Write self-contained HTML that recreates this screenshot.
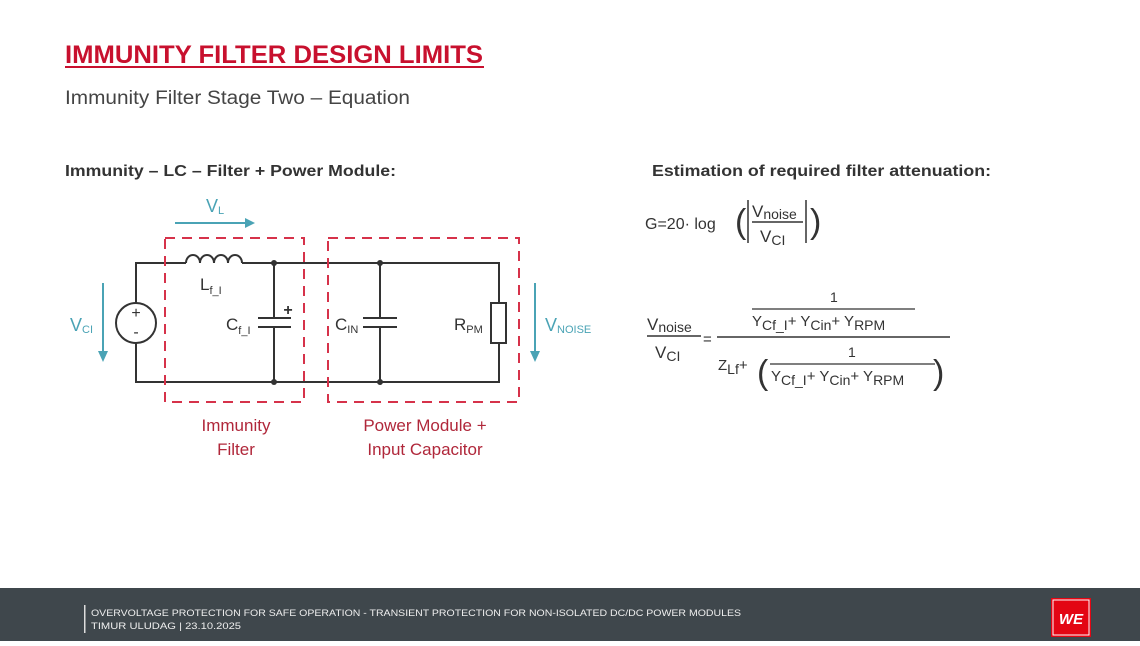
<!DOCTYPE html>
<html><head><meta charset="utf-8"><style>
html,body{margin:0;padding:0;background:#fff;}
body{width:1140px;height:641px;position:relative;overflow:hidden;font-family:"Liberation Sans",sans-serif;}
svg text{font-family:"Liberation Sans",sans-serif;}
</style></head><body>
<svg width="1140" height="641" viewBox="0 0 1140 641" xmlns="http://www.w3.org/2000/svg">
<rect width="1140" height="641" fill="#fff"/>
<text x="65" y="63" font-size="25" font-weight="bold" fill="#c8102e" textLength="418" lengthAdjust="spacingAndGlyphs">IMMUNITY FILTER DESIGN LIMITS</text>
<rect x="65" y="66" width="419" height="2" fill="#c8102e"/>
<text x="65" y="104" font-size="19" fill="#444" textLength="345" lengthAdjust="spacingAndGlyphs">Immunity Filter Stage Two – Equation</text>
<text x="65" y="176" font-size="16" font-weight="bold" fill="#333" textLength="331" lengthAdjust="spacingAndGlyphs">Immunity – LC – Filter + Power Module:</text>
<text x="652" y="176" font-size="16" font-weight="bold" fill="#333" textLength="339" lengthAdjust="spacingAndGlyphs">Estimation of required filter attenuation:</text>

<!-- circuit -->
<g stroke="#333" stroke-width="2" fill="none">
<path d="M136 303 V263 H186 M242 263 H499 V303 M499 343 V382 H136 V343"/>
<path d="M186 263 a7 8 0 0 1 14 0 a7 8 0 0 1 14 0 a7 8 0 0 1 14 0 a7 8 0 0 1 14 0"/>
<circle cx="136" cy="323" r="20"/>
<path d="M274 263 V318 M274 327 V382 M258 318 H291 M258 327 H291"/>
<path d="M380 263 V318 M380 327 V382 M363 318 H397 M363 327 H397"/>
<rect x="491" y="303" width="15" height="40"/>
</g>
<g fill="#333"><circle cx="274" cy="263" r="3"/><circle cx="274" cy="382" r="3"/><circle cx="380" cy="263" r="3"/><circle cx="380" cy="382" r="3"/></g>
<text x="136" y="318" font-size="16" text-anchor="middle" fill="#333">+</text>
<text x="136" y="337" font-size="16" text-anchor="middle" fill="#333">-</text>
<text x="288" y="315" font-size="16" font-weight="bold" text-anchor="middle" fill="#333">+</text>
<g fill="none" stroke="#d6324a" stroke-width="2" stroke-dasharray="10,7">
<rect x="165" y="238" width="139" height="164"/>
<rect x="328" y="238" width="191" height="164"/>
</g>
<text x="200" y="290" font-size="17" fill="#333">L<tspan font-size="11" dy="4">f_I</tspan></text>
<text x="226" y="330" font-size="17" fill="#333">C<tspan font-size="11" dy="4">f_I</tspan></text>
<text x="335" y="330" font-size="17" fill="#333">C<tspan font-size="11" dy="3">IN</tspan></text>
<text x="454" y="330" font-size="17" fill="#333">R<tspan font-size="11" dy="3">PM</tspan></text>
<!-- teal arrows -->
<g stroke="#4aa3b5" stroke-width="2" fill="#4aa3b5">
<path d="M175 223 H246" /><path d="M255 223 L245 218 L245 228 Z" stroke="none"/>
<path d="M103 283 V352"/><path d="M103 362 L98 351 L108 351 Z" stroke="none"/>
<path d="M535 283 V352"/><path d="M535 362 L530 351 L540 351 Z" stroke="none"/>
</g>
<text x="206" y="212" font-size="18" fill="#4aa3b5">V<tspan font-size="11" dy="2">L</tspan></text>
<text x="70" y="331" font-size="18" fill="#4aa3b5">V<tspan font-size="11" dy="2">CI</tspan></text>
<text x="545" y="331" font-size="18" fill="#4aa3b5">V<tspan font-size="11" dy="2">NOISE</tspan></text>
<g font-size="17" fill="#b0273a" text-anchor="middle">
<text x="236" y="431">Immunity</text><text x="236" y="455">Filter</text>
<text x="425" y="431">Power Module +</text><text x="425" y="455">Input Capacitor</text>
</g>

<!-- equations -->
<g fill="#333" font-size="16">
<text x="645" y="229">G=20· log</text>
<text x="735" y="233" font-size="34" font-weight="100">(</text>
<text x="810" y="233" font-size="34" font-weight="100">)</text>
<path d="M748 200 V243 M806 200 V243" stroke="#333" stroke-width="1.5"/>
<text x="752" y="217" font-size="17">V<tspan font-size="14" dy="2">noise</tspan></text>
<path d="M752 222 H803" stroke="#333" stroke-width="1.5"/>
<text x="760" y="242" font-size="17">V<tspan font-size="14" dy="3">CI</tspan></text>

<text x="647" y="330" font-size="17">V<tspan font-size="14" dy="2">noise</tspan></text>
<path d="M647 336 H701" stroke="#333" stroke-width="1.5"/>
<text x="655" y="358" font-size="17">V<tspan font-size="14" dy="3">CI</tspan></text>
<text x="703" y="344" font-size="15">=</text>
<path d="M717 337 H950" stroke="#333" stroke-width="1.5"/>
<text x="830" y="302" font-size="14">1</text>
<path d="M752 309 H915" stroke="#333" stroke-width="1.2"/>
<text x="752" y="326" font-size="15">Y<tspan font-size="14" dy="4">Cf_I</tspan><tspan dy="-4">+ Y</tspan><tspan font-size="14" dy="4">Cin</tspan><tspan dy="-4">+ Y</tspan><tspan font-size="14" dy="4">RPM</tspan></text>
<text x="718" y="370" font-size="15">Z<tspan font-size="14" dy="4">Lf</tspan><tspan dy="-4">+</tspan></text>
<text x="757" y="384" font-size="34" font-weight="100">(</text>
<text x="933" y="384" font-size="34" font-weight="100">)</text>
<text x="848" y="357" font-size="14">1</text>
<path d="M770 364 H935" stroke="#333" stroke-width="1.2"/>
<text x="771" y="381" font-size="15">Y<tspan font-size="14" dy="4">Cf_I</tspan><tspan dy="-4">+ Y</tspan><tspan font-size="14" dy="4">Cin</tspan><tspan dy="-4">+ Y</tspan><tspan font-size="14" dy="4">RPM</tspan></text>
</g>

<!-- footer -->
<rect x="0" y="588" width="1140" height="53" fill="#3f474c"/>
<rect x="84" y="605" width="1.5" height="28" fill="#ddd"/>
<text x="91" y="616" font-size="9.5" fill="#eee" textLength="650" lengthAdjust="spacingAndGlyphs">OVERVOLTAGE PROTECTION FOR SAFE OPERATION - TRANSIENT PROTECTION FOR NON-ISOLATED DC/DC POWER MODULES</text>
<text x="91" y="629" font-size="9.5" fill="#eee" textLength="150" lengthAdjust="spacingAndGlyphs">TIMUR ULUDAG | 23.10.2025</text>
<rect x="1051" y="598" width="40" height="39" fill="#e30613"/>
<rect x="1053" y="600" width="36" height="35" fill="none" stroke="#fff" stroke-width="1"/>
<text x="1071" y="624" font-size="15" font-weight="bold" font-style="italic" fill="#fff" text-anchor="middle">WE</text>
</svg>
</body></html>
